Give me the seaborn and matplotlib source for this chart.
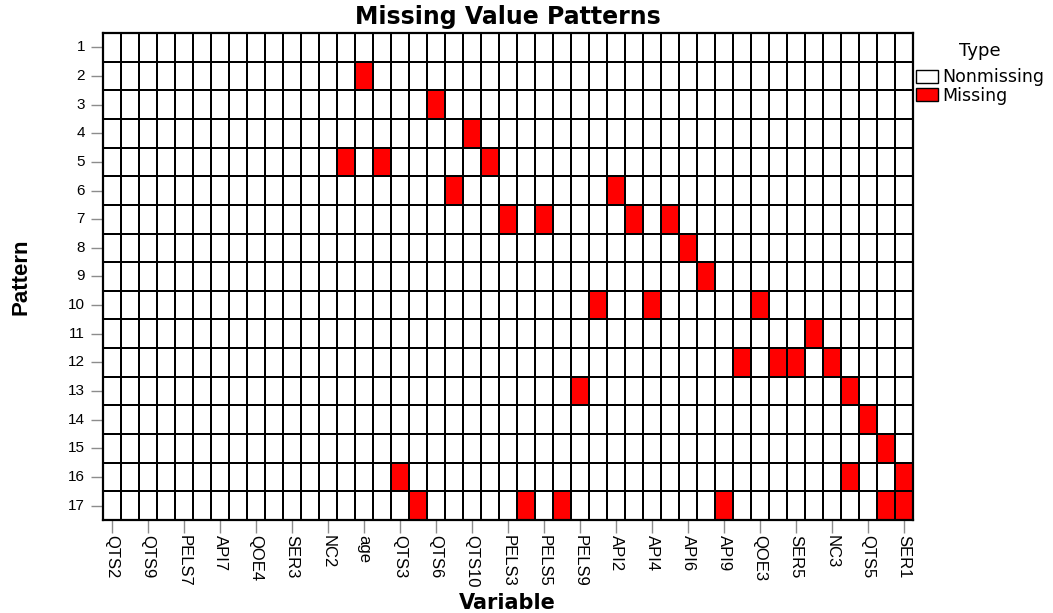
import numpy as np
import matplotlib
matplotlib.use("Agg")
import matplotlib.pyplot as plt
import seaborn as sns
from matplotlib.colors import ListedColormap
from matplotlib.patches import Patch
from matplotlib import font_manager

# ---------------- data ----------------
n_variables = 45
tick_labels = ["QTS2", "QTS9", "PELS7", "API7", "QOE4", "SER3", "NC2", "age",
               "QTS3", "QTS6", "QTS10", "PELS3", "PELS5", "PELS9", "API2", "API4",
               "API6", "API9", "QOE3", "SER5", "NC3", "QTS5", "SER1"]
patterns = list(range(1, 18))
# column positions (0-based, left to right) of the missing cells in each pattern
missing_columns = [
    [], [14], [18], [20], [13, 15, 21], [19, 28], [22, 24, 29, 31], [32], [33],
    [27, 30, 36], [39], [35, 37, 38, 40], [26, 41], [42], [43], [16, 41, 44],
    [17, 23, 25, 34, 43, 44],
]
type_labels = ["Nonmissing", "Missing"]
type_colors = ["white", "#ff0000"]

# ---------------- style ----------------
sns.set_theme(style="white")
names = {f.name for f in font_manager.fontManager.ttflist}
narrow = "Liberation Sans Narrow" if "Liberation Sans Narrow" in names else "Liberation Sans"
plt.rcParams["font.family"] = ["DejaVu Sans"]
plt.rcParams["text.color"] = "black"
plt.rcParams["axes.labelcolor"] = "black"
plt.rcParams["xtick.color"] = "black"
plt.rcParams["ytick.color"] = "black"

matrix = np.zeros((len(patterns), n_variables))
for i, cols in enumerate(missing_columns):
    matrix[i, cols] = 1

fig = plt.figure(figsize=(10.53, 6.13), dpi=100)
W, H = 1053, 613
ax = fig.add_axes([103 / W, 1 - 520 / H, 810 / W, 487 / H])

sns.heatmap(matrix, cmap=ListedColormap(type_colors), vmin=0, vmax=1,
            linewidths=1.3, linecolor="black", cbar=False, ax=ax)

for s in ax.spines.values():
    s.set_visible(True)
    s.set_color("black")
    s.set_linewidth(1.6)

ax.set_xticks(np.arange(0, n_variables, 2) + 0.5)
ax.set_xticklabels(tick_labels, rotation=270, fontsize=12,
                   family=[narrow, "DejaVu Sans"], color="black")
ax.set_yticks(np.arange(len(patterns)) + 0.5)
ax.set_yticklabels([str(p) for p in patterns], rotation=0, fontsize=11,
                   family=["Liberation Sans"], color="black")
ax.tick_params(axis="both", which="both", length=9, width=1.0, color="#8c8c8c",
               bottom=True, left=True, direction="out")
ax.tick_params(axis="x", pad=1.5)
ax.tick_params(axis="y", pad=4)
ax.set_xlabel("")
ax.set_ylabel("")

fig.text(508 / W, 1 - 24 / H, "Missing Value Patterns", ha="center", va="baseline",
         fontsize=17, fontweight="bold", family=["DejaVu Sans"], color="black")
fig.text(507 / W, 1 - 609 / H, "Variable", ha="center", va="baseline",
         fontsize=15, fontweight="bold", family=["DejaVu Sans"], color="black")
fig.text(21 / W, 1 - 277 / H, "Pattern", ha="center", va="center", rotation=90,
         fontsize=16, fontweight="bold", family=[narrow, "DejaVu Sans"], color="black")

handles = [Patch(facecolor=c, edgecolor="black", linewidth=1.0, label=l)
           for c, l in zip(type_colors, type_labels)]
leg = fig.legend(handles=handles, title="Type", loc="upper left",
                 bbox_to_anchor=(916 / W, 1 - 42 / H), frameon=False,
                 handlelength=1.25, handleheight=0.8, handletextpad=0.25,
                 labelspacing=0.02, borderaxespad=0, borderpad=0,
                 fontsize=12.5, title_fontsize=13)
leg._legend_box.sep = 6
for t in leg.get_texts():
    t.set_family(["DejaVu Sans"])
    t.set_color("black")
leg.get_title().set_color("black")

fig.savefig("out.png", dpi=100, facecolor="white")
